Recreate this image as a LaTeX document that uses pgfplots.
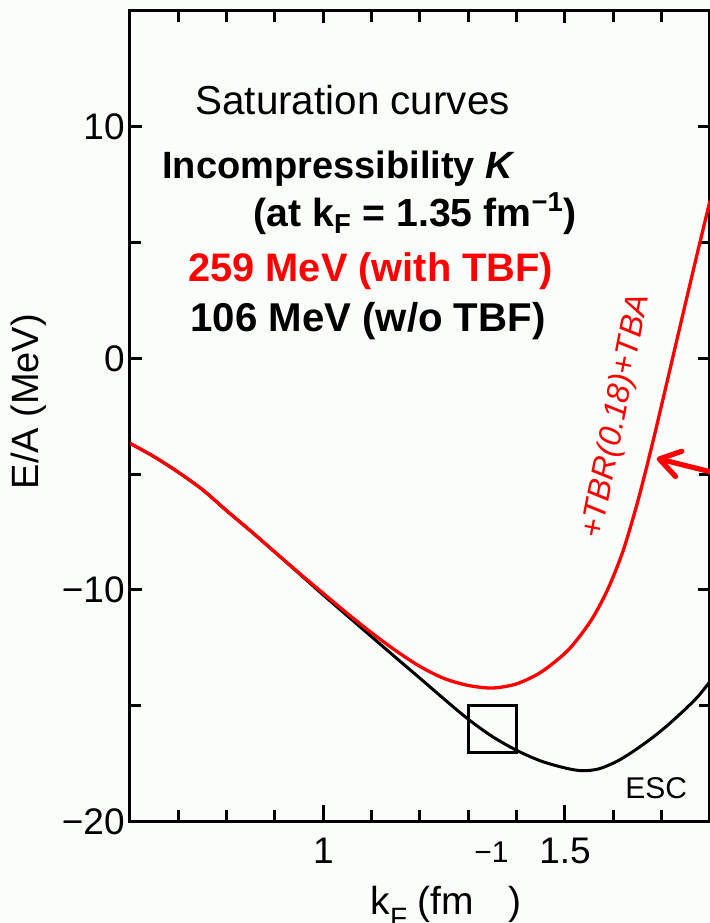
\documentclass[border=0pt]{standalone}
\usepackage{fontspec}
\setmainfont{Liberation Sans}
\usepackage{pgfplots}
\pgfplotsset{compat=1.18}
\usetikzlibrary{arrows.meta}
\definecolor{pagebg}{RGB}{251,253,251}
\definecolor{tbfred}{RGB}{255,0,0}

\begin{document}
\begin{tikzpicture}
\path[use as bounding box, fill=pagebg] (-65pt,-50.65pt) rectangle (290pt,410.85pt);
\begin{axis}[
  at={(0,0)}, anchor=south west,
  scale only axis, width=290pt, height=405.5pt,
  xmin=0.6, xmax=1.8, ymin=-20, ymax=15,
  axis line style={line width=1.5pt},
  xtick pos=both, ytick pos=both, tick align=inside,
  every tick/.style={line width=1.5pt, black},
  major tick length=6pt, minor tick length=5.5pt,
  xtick={1,1.5}, xticklabels={1,1.5},
  minor xtick={0.7,0.8,0.9,1.1,1.2,1.3,1.4,1.6,1.7},
  ytick={-20,-10,0,10}, yticklabels={−20,−10,0,10},
  minor ytick={-15,-5,5},
  xticklabel shift=8.15pt, yticklabel shift=2.5pt,
  xticklabel style={font=\fontsize{18.5}{18.5}\selectfont, inner sep=0pt},
  yticklabel style={font=\fontsize{18.5}{18.5}\selectfont, inner sep=0pt},
  xlabel={k\raisebox{-6.5pt}{\fontsize{14}{14}\selectfont F} (fm\raisebox{26pt}{\fontsize{15}{15}\selectfont −1})},
  xlabel style={at={(axis description cs:0.5448,-0.1150)}, anchor=base, inner sep=0pt,
    font=\fontsize{19.5}{19.5}\selectfont},
  ylabel={E/A (MeV)},
  ylabel style={at={(axis description cs:-0.1741,0.5179)}, anchor=center, inner sep=0pt,
    font=\fontsize{19}{19}\selectfont},
]

% ESC, without three-body force
\addplot[black, line width=1.5pt, smooth] coordinates {
(0.60,-3.67) (0.65,-4.25) (0.70,-4.92) (0.75,-5.67) (0.80,-6.58)
(0.85,-7.46) (0.90,-8.37) (0.95,-9.29) (1.00,-10.22) (1.05,-11.12)
(1.10,-12.02) (1.15,-12.92) (1.20,-13.81) (1.25,-14.71) (1.30,-15.58)
(1.35,-16.33) (1.40,-16.92) (1.45,-17.38) (1.50,-17.68) (1.535,-17.80)
(1.57,-17.72) (1.607,-17.40) (1.64,-16.98) (1.676,-16.45) (1.71,-15.88)
(1.745,-15.22) (1.775,-14.60) (1.80,-13.95)
};

% ESC + TBR(0.18) + TBA
\addplot[tbfred, line width=1.65pt, smooth] coordinates {
(0.60,-3.67) (0.65,-4.25) (0.70,-4.92) (0.75,-5.67) (0.80,-6.58)
(0.85,-7.46) (0.90,-8.37) (0.95,-9.27) (1.00,-10.15) (1.05,-11.02)
(1.10,-11.85) (1.15,-12.62) (1.20,-13.30) (1.25,-13.82) (1.30,-14.12)
(1.35,-14.23) (1.40,-14.05) (1.45,-13.55) (1.50,-12.73) (1.53,-12.01)
(1.56,-11.11) (1.59,-9.90) (1.62,-8.32) (1.65,-6.22) (1.68,-3.76)
(1.71,-1.12) (1.74,1.55) (1.77,4.20) (1.80,6.80)
};

% k_F ticks on the bottom and top frame (longer at the labelled ones)
\pgfplotsinvokeforeach{0.7,0.8,0.9,1.1,1.2,1.3,1.4,1.6,1.7}{
  \draw[line width=1.5pt] (axis cs:#1,-20) -- ++(0pt,5.8pt);
  \draw[line width=1.5pt] (axis cs:#1,15) -- ++(0pt,-5.8pt);
}
\pgfplotsinvokeforeach{1,1.5}{
  \draw[line width=1.5pt] (axis cs:#1,-20) -- ++(0pt,8.3pt);
  \draw[line width=1.5pt] (axis cs:#1,15) -- ++(0pt,-5.8pt);
}

% empirical saturation region
\draw[black, line width=1.4pt] (axis cs:1.3,-15) rectangle (axis cs:1.4,-17);

\draw[tbfred, line width=2.6pt, -{Straight Barb[length=10pt,width=13pt,round]}]
  (axis cs:1.8414,-5.11) -- (axis cs:1.6898,-4.32);

\node[anchor=base west, inner sep=0pt, font=\fontsize{20.2}{20}\selectfont]
  at (axis cs:0.7345,10.54) {Saturation curves};
\node[anchor=base west, inner sep=0pt, font=\bfseries\fontsize{19}{19}\selectfont]
  at (axis cs:0.6662,7.74) {Incompressibility \textit{K}};
\node[anchor=base west, inner sep=0pt, font=\bfseries\fontsize{19.6}{19.6}\selectfont]
  at (axis cs:0.8545,5.67) {(at k\textsubscript{F} = 1.35 fm\textsuperscript{−1})};
\node[anchor=base west, inner sep=0pt, text=tbfred, font=\bfseries\fontsize{19.9}{19.9}\selectfont]
  at (axis cs:0.720,3.30) {259 MeV (with TBF)};
\node[anchor=base west, inner sep=0pt, font=\bfseries\fontsize{20.1}{20.1}\selectfont]
  at (axis cs:0.724,1.14) {106 MeV (w/o TBF)};

\node[anchor=base west, inner sep=0pt, font=\fontsize{15}{15}\selectfont]
  at (axis cs:1.6242,-18.99) {ESC};
\node[rotate=79, inner sep=0pt, text=tbfred, font=\itshape\fontsize{16}{16}\selectfont]
  at (axis cs:1.607,-2.52) {+TBR(0.18)+TBA};
\end{axis}
\end{tikzpicture}
\end{document}
